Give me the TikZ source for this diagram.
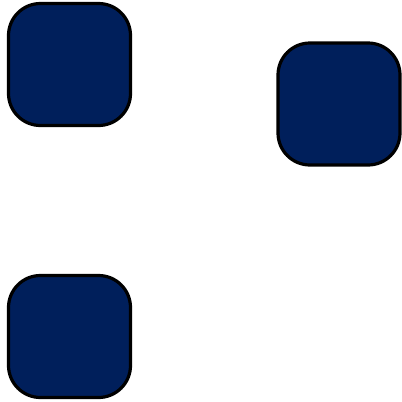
\documentclass[tikz,border=0pt]{standalone}
\definecolor{navy}{RGB}{0,31,91}
\tikzset{tile/.style={draw=black, line width=3.2pt, fill=navy, rounded corners=32pt, minimum width=122pt, minimum height=122pt, inner sep=0pt, outer sep=0pt}}
\begin{document}
\begin{tikzpicture}[x=1pt,y=-1pt]
\useasboundingbox (0,0) rectangle (402,402);
\node[tile] (a) at (69.5,64.5) {};
\node[tile] (b) at (339,104) {};
\node[tile] (c) at (69.5,336.5) {};
\end{tikzpicture}
\end{document}
